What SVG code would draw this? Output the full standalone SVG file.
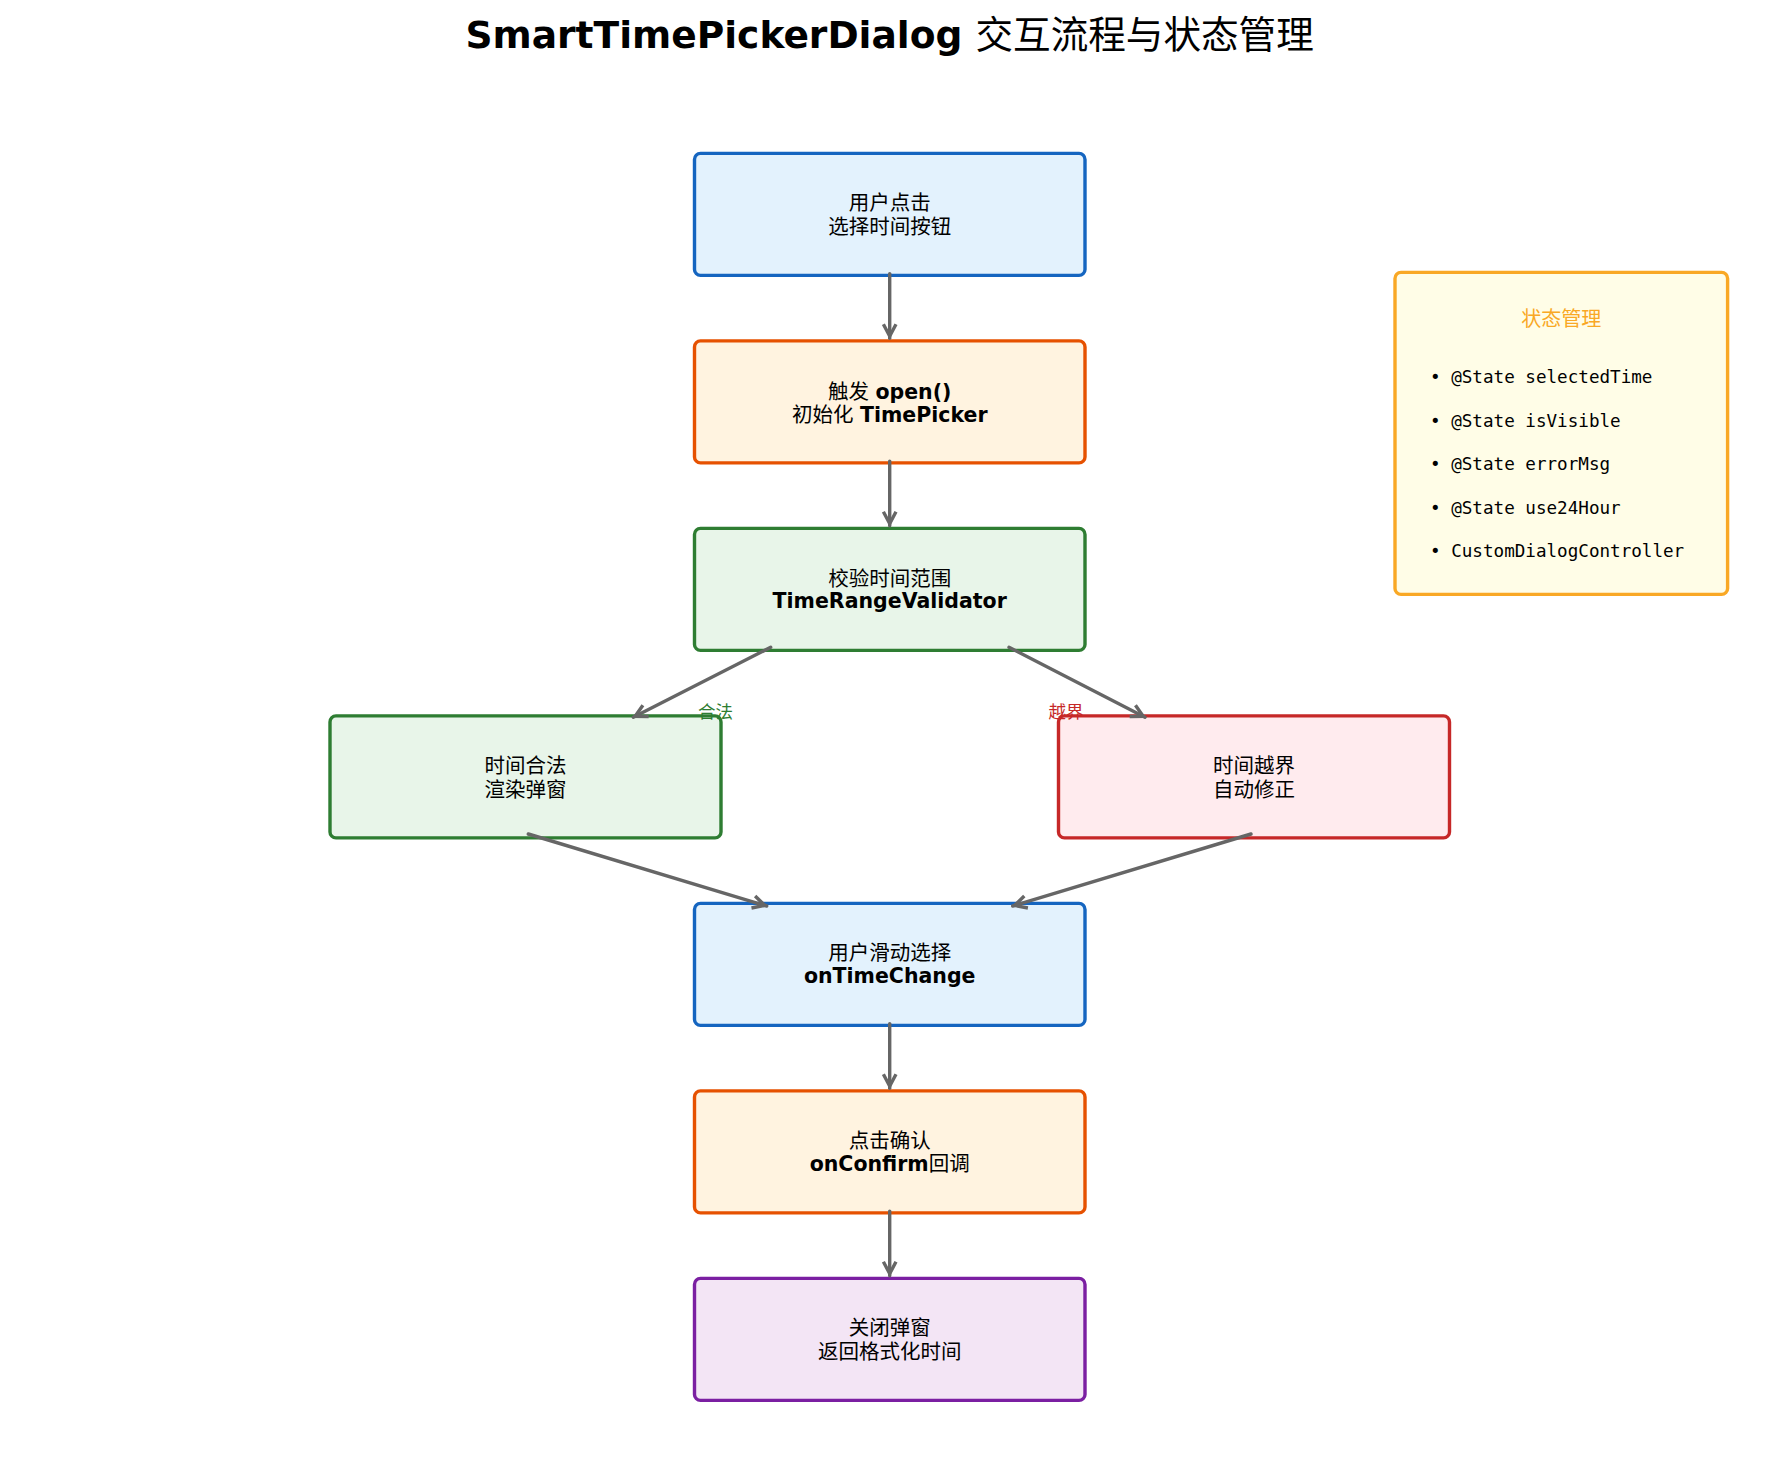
<svg xmlns="http://www.w3.org/2000/svg" width="1780" height="1480" viewBox="0 0 1780 1480">
<style>
.node rect{stroke-width:3.4}
.t{font-family:"DejaVu Sans","Noto Sans CJK SC",sans-serif;font-size:20.5px;fill:#000;text-anchor:middle}
.b{font-weight:bold}
.cjk{font-family:"Noto Sans CJK SC",sans-serif;font-weight:normal}
.mono{font-family:"DejaVu Sans Mono","Liberation Mono",monospace;font-size:17.6px;fill:#000}
.lbl{font-family:"Noto Sans CJK SC",sans-serif;font-size:17.5px;text-anchor:middle}
.conn line{stroke:#666;stroke-width:3.4;stroke-linecap:round;fill:none;marker-end:url(#ah)}
.blue{fill:#E3F2FD;stroke:#1565C0}
.orange{fill:#FFF3E0;stroke:#E65100}
.green{fill:#E8F5E9;stroke:#2E7D32}
.red{fill:#FFEBEE;stroke:#C62828}
.purple{fill:#F3E5F5;stroke:#7B1FA2}
.amber{fill:#FFFDE7;stroke:#F9A825}
</style>
<defs>
<marker id="ah" markerUnits="userSpaceOnUse" viewBox="-15 -9 20 18" refX="2" refY="0" markerWidth="20" markerHeight="18" orient="auto">
<path d="M-12,-6.3 L0,0 L-12,6.3" fill="none" stroke="#666" stroke-width="3.4" stroke-linejoin="miter"/>
</marker>
</defs>
<rect width="1780" height="1480" fill="#fff"/>
<text x="889.6" y="47.5" style="font-family:'DejaVu Sans','Noto Sans CJK SC',sans-serif;font-size:37.6px;font-weight:bold;text-anchor:middle">SmartTimePickerDialog <tspan class="cjk">交互流程与状态管理</tspan></text>

<g id="node-click" class="node">
<rect class="blue" x="694.5" y="153.4" width="390.5" height="122" rx="6"/>
<text class="t" x="889.7"><tspan x="889.7" y="210.4">用户点击</tspan><tspan x="889.7" y="234.4">选择时间按钮</tspan></text>
</g>
<g id="node-open" class="node">
<rect class="orange" x="694.5" y="340.9" width="390.5" height="122" rx="6"/>
<text class="t" x="889.7" y="398.6">触发 <tspan class="b">open()</tspan></text>
<text class="t" x="889.7" y="421.6">初始化 <tspan class="b">TimePicker</tspan></text>
</g>
<g id="node-validate" class="node">
<rect class="green" x="694.5" y="528.4" width="390.5" height="122" rx="6"/>
<text class="t" x="889.7" y="585.6">校验时间范围</text>
<text class="t b" x="889.7" y="607.6">TimeRangeValidator</text>
</g>
<g id="node-valid" class="node">
<rect class="green" x="330" y="715.9" width="391" height="122" rx="6"/>
<text class="t"><tspan x="525.5" y="773">时间合法</tspan><tspan x="525.5" y="796.5">渲染弹窗</tspan></text>
</g>
<g id="node-invalid" class="node">
<rect class="red" x="1058.5" y="715.9" width="391" height="122" rx="6"/>
<text class="t"><tspan x="1254" y="773">时间越界</tspan><tspan x="1254" y="796.5">自动修正</tspan></text>
</g>
<g id="node-change" class="node">
<rect class="blue" x="694.5" y="903.4" width="390.5" height="122" rx="6"/>
<text class="t" x="889.7" y="960.2">用户滑动选择</text>
<text class="t b" x="889.7" y="983.2">onTimeChange</text>
</g>
<g id="node-confirm" class="node">
<rect class="orange" x="694.5" y="1090.9" width="390.5" height="122" rx="6"/>
<text class="t" x="889.7" y="1147.7">点击确认</text>
<text class="t" x="889.7" y="1170.7"><tspan class="b">onConfirm</tspan>回调</text>
</g>
<g id="node-close" class="node">
<rect class="purple" x="694.5" y="1278.4" width="390.5" height="122" rx="6"/>
<text class="t"><tspan x="889.7" y="1335.2">关闭弹窗</tspan><tspan x="889.7" y="1359.4">返回格式化时间</tspan></text>
</g>

<g id="state-box" class="node">
<rect class="amber" x="1395" y="272.4" width="332.6" height="322" rx="6"/>
<text x="1561.3" y="326.4" style="font-family:'Noto Sans CJK SC',sans-serif;font-size:20px;fill:#F9A825;text-anchor:middle">状态管理</text>
<text class="mono" x="1430" y="383">• @State selectedTime</text>
<text class="mono" x="1430" y="426.5">• @State isVisible</text>
<text class="mono" x="1430" y="470">• @State errorMsg</text>
<text class="mono" x="1430" y="513.5">• @State use24Hour</text>
<text class="mono" x="1430" y="557">• CustomDialogController</text>
</g>

<g id="connectors" class="conn">
<line x1="889.7" y1="273.6" x2="889.7" y2="338.2"/>
<line x1="889.7" y1="461.1" x2="889.7" y2="525.7"/>
<line x1="770.7" y1="647.3" x2="633.3" y2="717.3"/>
<line x1="1009" y1="647.3" x2="1145" y2="717.3"/>
<line x1="528.3" y1="834" x2="766.7" y2="906"/>
<line x1="1251" y1="834" x2="1012.7" y2="906"/>
<line x1="889.7" y1="1023.6" x2="889.7" y2="1088.2"/>
<line x1="889.7" y1="1211.1" x2="889.7" y2="1275.7"/>
</g>

<g id="edge-labels">
<text class="lbl" x="715.5" y="718.3" fill="#2E7D32">合法</text>
<text class="lbl" x="1066" y="718.3" fill="#C62828">越界</text>
</g>
</svg>
